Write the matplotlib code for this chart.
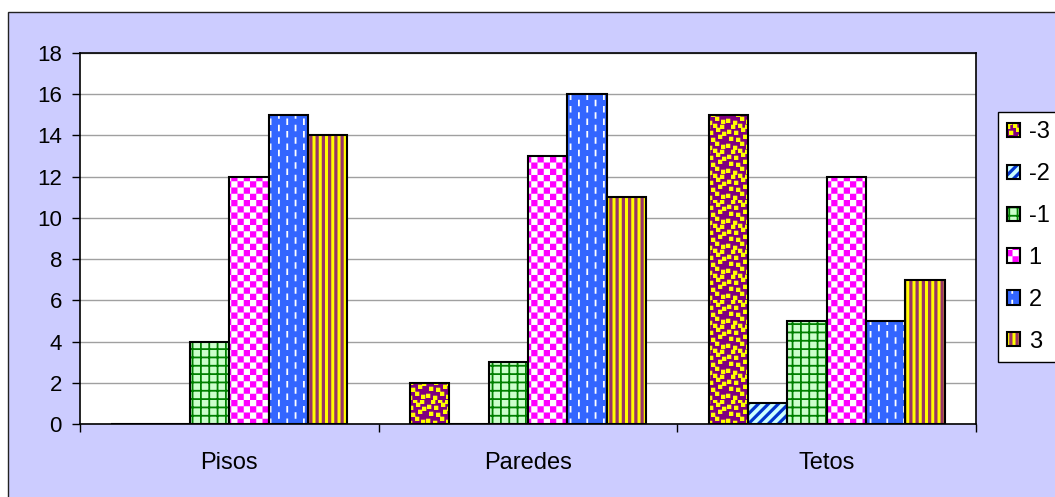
import warnings
import numpy as np
import matplotlib
matplotlib.use("Agg")
import matplotlib.pyplot as plt
import matplotlib.hatch as mhatch
from matplotlib.path import Path
from matplotlib.patches import Rectangle

warnings.filterwarnings("ignore")

# data
categories = ["Pisos", "Paredes", "Tetos"]
series_labels = ["-3", "-2", "-1", "1", "2", "3"]
v_m3 = [0, 2, 15]
v_m2 = [0, 0, 1]
v_m1 = [4, 3, 5]
v_p1 = [12, 13, 12]
v_p2 = [15, 16, 5]
v_p3 = [14, 11, 7]
values = [v_m3, v_m2, v_m1, v_p1, v_p2, v_p3]

# (face colour, pattern colour, pattern key) for each series
styles = [
    ("#800080", "#FFFF00", "a"),   # confetti
    ("#CCFFFF", "#0033CC", "b"),   # wide diagonal
    ("#CCFFCC", "#008000", "g"),   # grid
    ("#FFFFFF", "#FF00FF", "c"),   # checkerboard
    ("#3366FF", "#FFFFFF", "d"),   # dashes
    ("#993366", "#FFFF00", "s"),   # vertical stripes
]


# ---- Excel-like fill patterns as custom hatches (tile = 100 px at dpi 100) ----
def rect(x, y, w, h):
    return [(x, y), (x + w, y), (x + w, y + h), (x, y + h)]


def pat_confetti():
    spots = [(1, 2), (8, 0), (15, 4), (21, 1), (4, 9), (11, 8), (18, 11),
             (2, 16), (9, 15), (16, 18), (22, 14), (6, 21), (13, 22), (20, 21)]
    out = []
    for tx in range(4):
        for ty in range(4):
            for (x, y) in spots:
                out.append(rect(tx * 25 + x, ty * 25 + y, 4.3, 4.3))
    return out


def pat_diag():
    out = []
    for k in range(-10, 11):
        x = k * 10
        out.append([(x, 0), (x + 4.5, 0), (x + 104.5, 100), (x + 100, 100)])
    return out


def pat_grid():
    s = 100 / 12
    out = []
    for k in range(12):
        out.append(rect(k * s, 0, 1.8, 100))
        out.append(rect(0, k * s, 100, 1.8))
    return out


def pat_checker():
    s = 100 / 16
    return [rect(i * s, j * s, s, s) for i in range(16) for j in range(16)
            if (i + j) % 2 == 0]


def pat_dashes():
    sx = 100 / 12
    sy = 100 / 8
    out = []
    for i in range(12):
        off = 0 if i % 2 == 0 else sy / 2
        for j in range(-1, 9):
            out.append(rect(i * sx + 3, j * sy + off, 1.8, 6.5))
    return out


def pat_stripes():
    s = 100 / 16
    return [rect(k * s, 0, 3.0, 100) for k in range(16)]


TILES = {"a": pat_confetti, "b": pat_diag, "g": pat_grid,
         "c": pat_checker, "d": pat_dashes, "s": pat_stripes}


class TileHatch(mhatch.HatchPatternBase):
    def __init__(self, hatch, density):
        self.polys = []
        for key, maker in TILES.items():
            if key in hatch:
                self.polys += maker()
        self.num_vertices = 5 * len(self.polys)

    def set_vertices_and_codes(self, vertices, codes):
        for n, poly in enumerate(self.polys):
            vertices[5 * n:5 * n + 4] = np.array(poly) / 100.0
            vertices[5 * n + 4] = np.array(poly[0]) / 100.0
            codes[5 * n] = Path.MOVETO
            codes[5 * n + 1:5 * n + 4] = Path.LINETO
            codes[5 * n + 4] = Path.CLOSEPOLY


mhatch._hatch_types.append(TileHatch)
plt.rcParams["hatch.linewidth"] = 0.01
plt.rcParams["font.family"] = ["Liberation Sans", "DejaVu Sans"]

W, H = 1055, 497
fig = plt.figure(figsize=(W / 100, H / 100), dpi=100)
fig.patch.set_facecolor("white")
fig.add_artist(Rectangle((8 / W, -0.02), 1.1, (H - 12) / H + 0.02,
                         transform=fig.transFigure, facecolor="#CCCCFF",
                         edgecolor="#222222", linewidth=1.0, zorder=-10))

ax = fig.add_axes([80 / W, (H - 424) / H, (976 - 80) / W, (424 - 53) / H])
ax.set_facecolor("white")

x = np.arange(len(categories))
width = 0.1316
handles = []
for i, (vals, (fc, pc, key)) in enumerate(zip(values, styles)):
    pos = x + (i - 2.5) * width
    filled = ax.bar(pos, vals, width, color=fc, edgecolor=pc, linewidth=0,
                    hatch=key, zorder=2)
    outline = ax.bar(pos, vals, width, fill=False, edgecolor="black",
                     linewidth=1.5, zorder=3)
    handles.append((filled[0], outline[0]))

ax.set_xlim(-0.5, 2.5)
ax.set_ylim(0, 18)
ax.set_yticks(range(0, 19, 2))
ax.set_xticks(x, categories)
ax.set_xticks([-0.5, 0.5, 1.5, 2.5], minor=True)
ax.tick_params(axis="x", which="major", length=0, pad=20, labelsize=17)
ax.tick_params(axis="x", which="minor", length=6, width=1, direction="out")
ax.tick_params(axis="y", length=6, width=1, pad=7, labelsize=16)
ax.yaxis.grid(True, color="#A0A0A0", linewidth=1.0)
ax.set_axisbelow(True)
for sp in ax.spines.values():
    sp.set_color("black")
    sp.set_linewidth(1.2)

leg = fig.legend(handles, series_labels, loc="upper left",
                 bbox_to_anchor=(998 / W, 1 - 112 / H), borderaxespad=0,
                 fontsize=17, handlelength=0.55, handleheight=0.55,
                 handletextpad=0.35, labelspacing=0.84, borderpad=0.4,
                 fancybox=False, framealpha=1, edgecolor="black")
leg.get_frame().set_linewidth(1.0)

fig.savefig("out.png", dpi=100)
